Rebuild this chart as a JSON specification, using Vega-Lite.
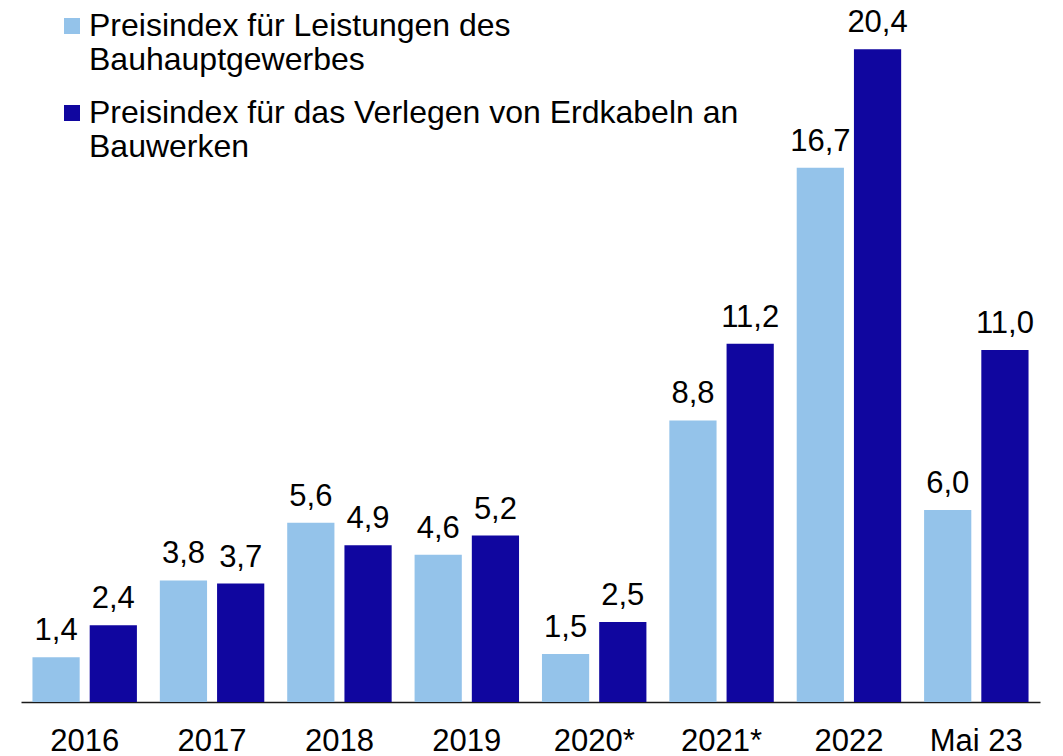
{
  "$schema": "https://vega.github.io/schema/vega-lite/v6.json",
  "width": 1019,
  "height": 702,
  "autosize": "none",
  "padding": {"left": 21, "top": 0, "right": 23, "bottom": 54},
  "background": "white",
  "config": {
    "view": {"stroke": null},
    "font": "Liberation Sans",
    "locale": {"number": {"decimal": ",", "thousands": ".", "grouping": [3], "currency": ["", " €"]}}
  },
  "data": {
    "values": [
      {"jahr": "2016", "serie": "Bauhauptgewerbe", "wert": 1.4},
      {"jahr": "2016", "serie": "Erdkabel", "wert": 2.4},
      {"jahr": "2017", "serie": "Bauhauptgewerbe", "wert": 3.8},
      {"jahr": "2017", "serie": "Erdkabel", "wert": 3.7},
      {"jahr": "2018", "serie": "Bauhauptgewerbe", "wert": 5.6},
      {"jahr": "2018", "serie": "Erdkabel", "wert": 4.9},
      {"jahr": "2019", "serie": "Bauhauptgewerbe", "wert": 4.6},
      {"jahr": "2019", "serie": "Erdkabel", "wert": 5.2},
      {"jahr": "2020*", "serie": "Bauhauptgewerbe", "wert": 1.5},
      {"jahr": "2020*", "serie": "Erdkabel", "wert": 2.5},
      {"jahr": "2021*", "serie": "Bauhauptgewerbe", "wert": 8.8},
      {"jahr": "2021*", "serie": "Erdkabel", "wert": 11.2},
      {"jahr": "2022", "serie": "Bauhauptgewerbe", "wert": 16.7},
      {"jahr": "2022", "serie": "Erdkabel", "wert": 20.4},
      {"jahr": "Mai 23", "serie": "Bauhauptgewerbe", "wert": 6.0},
      {"jahr": "Mai 23", "serie": "Erdkabel", "wert": 11.0}
    ]
  },
  "encoding": {
    "x": {
      "field": "jahr",
      "type": "nominal",
      "sort": null,
      "scale": {"paddingInner": 0.18, "paddingOuter": 0.09},
      "axis": {
        "title": null,
        "labelAngle": 0,
        "labelFontSize": 31,
        "labelColor": "#000000",
        "labelBaseline": "alphabetic",
        "labelPadding": 48,
        "ticks": false,
        "domainColor": "#1a1a1a",
        "domainWidth": 1.5
      }
    },
    "xOffset": {
      "field": "serie",
      "type": "nominal",
      "sort": ["Bauhauptgewerbe", "Erdkabel"],
      "scale": {"paddingInner": 0.175, "paddingOuter": 0}
    },
    "y": {
      "field": "wert",
      "type": "quantitative",
      "scale": {"domain": [0, 21.94], "nice": false},
      "axis": null
    }
  },
  "layer": [
    {
      "mark": {"type": "bar"},
      "encoding": {
        "color": {
          "field": "serie",
          "type": "nominal",
          "sort": ["Bauhauptgewerbe", "Erdkabel"],
          "scale": {"domain": ["Bauhauptgewerbe", "Erdkabel"], "range": ["#94C3EA", "#10069F"]},
          "legend": {
            "title": null,
            "orient": "none",
            "legendX": 35,
            "legendY": 10,
            "padding": 0,
            "symbolType": "square",
            "symbolSize": 256,
            "symbolStrokeWidth": 0,
            "labelFontSize": 32,
            "labelColor": "#000000",
            "labelLimit": 900,
            "labelOffset": 1,
            "labelLineHeight": 35,
            "rowPadding": 21,
            "labelExpr": "datum.label == 'Bauhauptgewerbe' ? ['Preisindex für Leistungen des', 'Bauhauptgewerbes'] : ['Preisindex für das Verlegen von Erdkabeln an', 'Bauwerken']"
          }
        }
      }
    },
    {
      "mark": {"type": "text", "baseline": "alphabetic", "dy": -17, "fontSize": 31, "color": "#000000"},
      "encoding": {
        "text": {"field": "wert", "type": "quantitative", "format": ".1f"}
      }
    }
  ]
}
